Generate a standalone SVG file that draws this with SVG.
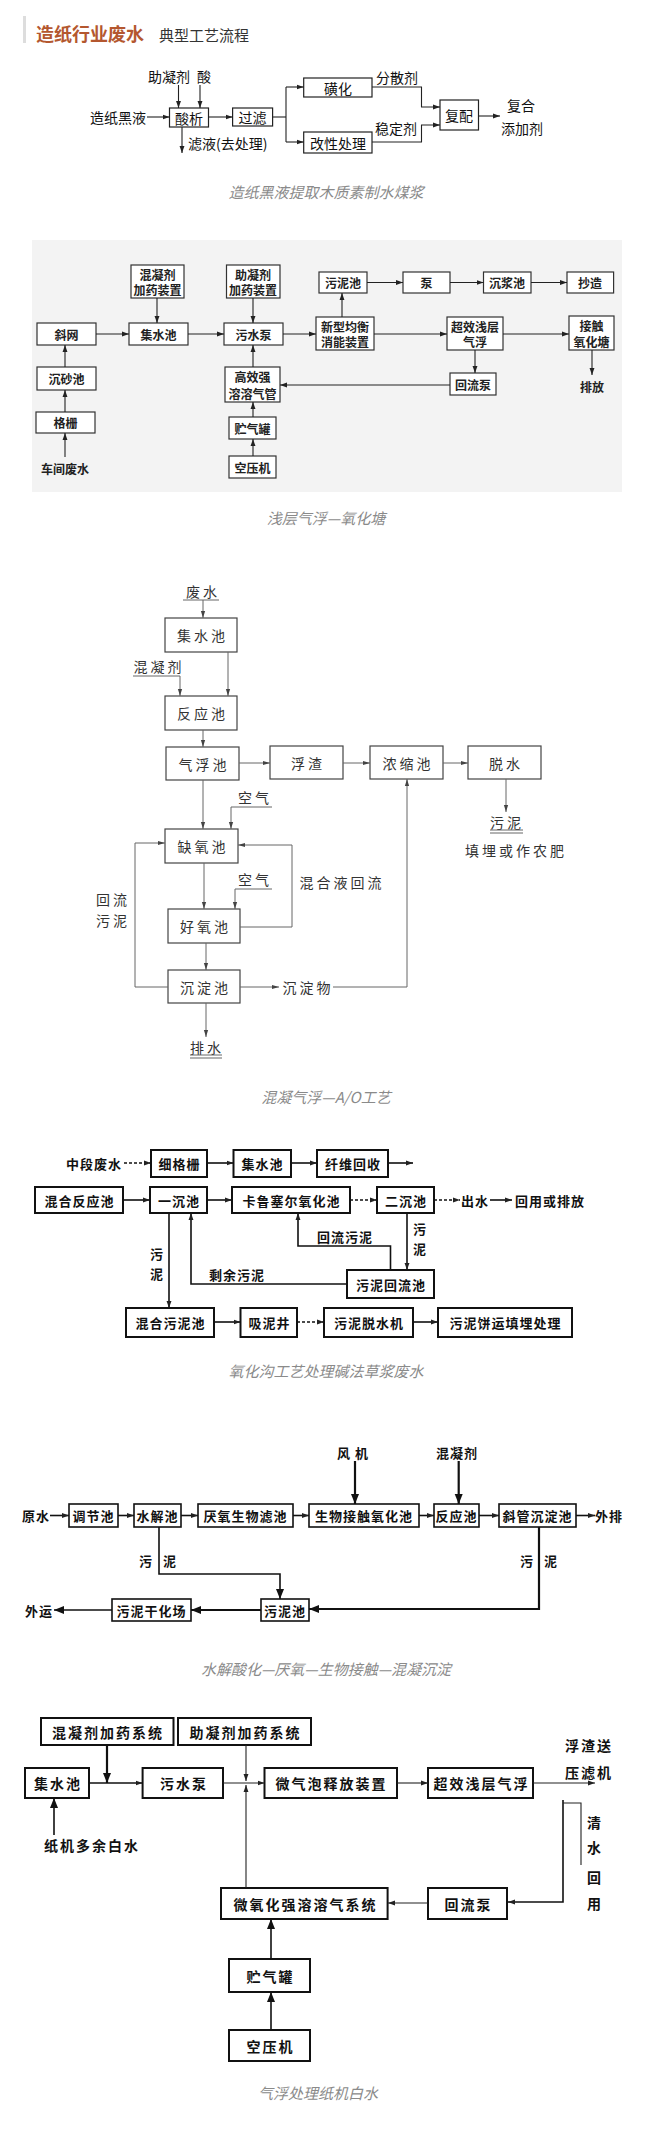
<svg xmlns="http://www.w3.org/2000/svg" width="648" height="2130" viewBox="0 0 648 2130">
<style>
text{font-family:'Noto Sans CJK SC','Noto Sans',sans-serif;dominant-baseline:central;text-anchor:middle;fill:#111}
.cap{font-size:15px;font-style:italic;fill:#8a8a8a}
.d1{font-size:14px}
.d2{font-size:12px;font-weight:bold;fill:#222}
.d3{font-size:14px;letter-spacing:3px;fill:#333}
.d4{font-size:13px;font-weight:bold;letter-spacing:1px}
.d5{font-size:13px;font-weight:bold;letter-spacing:1px}
.d6{font-size:14px;font-weight:bold;letter-spacing:2px}
.b1{fill:#fff;stroke:#222;stroke-width:1.2}
.b2{fill:#fff;stroke:#333;stroke-width:1.2}
.b3{fill:#fff;stroke:#444;stroke-width:1.2}
.b4{fill:#fff;stroke:#111;stroke-width:2}
.b5{fill:#fff;stroke:#111;stroke-width:1.6}
.b6{fill:#fff;stroke:#111;stroke-width:2}
.l{fill:none;stroke:#222;stroke-width:1.1}
.l3{fill:none;stroke:#666;stroke-width:1}
.lt{fill:none;stroke:#111;stroke-width:1.6}
.lT{fill:none;stroke:#111;stroke-width:2.2}
.dash{stroke-dasharray:3 2}
</style>
<defs>
<marker id="a" viewBox="0 0 10 10" refX="10" refY="5" markerWidth="7" markerHeight="7" markerUnits="userSpaceOnUse" orient="auto"><path d="M0,1.5 L10,5 L0,8.5 z" fill="#222"/></marker>
<marker id="a3" viewBox="0 0 10 10" refX="10" refY="5" markerWidth="7" markerHeight="7" markerUnits="userSpaceOnUse" orient="auto"><path d="M0,2 L10,5 L0,8 z" fill="#444"/></marker>
<marker id="ab" viewBox="0 0 10 10" refX="10" refY="5" markerWidth="10" markerHeight="10" markerUnits="userSpaceOnUse" orient="auto"><path d="M0,1 L10,5 L0,9 z" fill="#111"/></marker>
</defs>

<g id="header">
<rect x="23" y="16" width="3" height="27" fill="#ddd"/>
<text x="36" y="33" font-size="18" font-weight="bold" fill="#b4572f" style="text-anchor:start;fill:#b4572f">造纸行业废水</text>
<text x="159" y="34" font-size="15" style="text-anchor:start;fill:#333">典型工艺流程</text>
</g>

<!-- Diagram 1 -->
<g id="d1-nodes">
<g id="d1-suanxi"><rect class="b1" x="169.5" y="108" width="39" height="19"/><text class="d1" x="189" y="117.5">酸析</text></g>
<g id="d1-guolv"><rect class="b1" x="232.6" y="108" width="40" height="18"/><text class="d1" x="252.6" y="117">过滤</text></g>
<g id="d1-huanghua"><rect class="b1" x="303.7" y="78" width="68.3" height="19"/><text class="d1" x="338" y="87.5">磺化</text></g>
<g id="d1-gaixing"><rect class="b1" x="303.7" y="132" width="68.3" height="21"/><text class="d1" x="338" y="142.5">改性处理</text></g>
<g id="d1-fupei"><rect class="b1" x="440" y="100" width="38.5" height="30"/><text class="d1" x="459" y="115">复配</text></g>
<g id="d1-labels">
<text class="d1" x="169" y="76">助凝剂</text>
<text class="d1" x="204" y="76">酸</text>
<text class="d1" x="146" y="117" style="text-anchor:end">造纸黑液</text>
<text class="d1" x="188" y="143" style="text-anchor:start">滤液(去处理)</text>
<text class="d1" x="397" y="77">分散剂</text>
<text class="d1" x="396" y="128">稳定剂</text>
<text class="d1" x="521" y="105">复合</text>
<text class="d1" x="522" y="128">添加剂</text>
</g>
</g>
<g id="d1-edges">
<line class="l" x1="178.5" y1="85" x2="178.5" y2="108" marker-end="url(#a)"/>
<line class="l" x1="200" y1="85" x2="200" y2="108" marker-end="url(#a)"/>
<line class="l" x1="147" y1="117" x2="169.5" y2="117" marker-end="url(#a)"/>
<line class="l" x1="208.7" y1="117" x2="232.6" y2="117" marker-end="url(#a)"/>
<polyline class="l" points="272.6,117 286,117"/>
<line class="l" x1="286" y1="87" x2="286" y2="142"/>
<line class="l" x1="286" y1="87" x2="303.7" y2="87" marker-end="url(#a)"/>
<line class="l" x1="286" y1="142" x2="303.7" y2="142" marker-end="url(#a)"/>
<line class="l" x1="182" y1="127" x2="182" y2="153" marker-end="url(#a)"/>
<polyline class="l" points="372,87 421.5,87 421.5,107 440,107" marker-end="url(#a)"/>
<polyline class="l" points="372,142 421.5,142 421.5,125 440,125" marker-end="url(#a)"/>
<line class="l" x1="478.5" y1="116" x2="500" y2="116" marker-end="url(#a)"/>
</g>
<text class="cap" x="326" y="191">造纸黑液提取木质素制水煤浆</text>

<!-- Diagram 2 -->
<rect x="32" y="240" width="590" height="252" fill="#f3f3f3"/>
<g id="d2-nodes">
<g id="d2-hnj"><rect class="b2" x="131" y="265" width="53" height="33"/><text class="d2" x="157.5" y="274">混凝剂</text><text class="d2" x="157.5" y="289">加药装置</text></g>
<g id="d2-znj"><rect class="b2" x="226.5" y="265" width="53.5" height="33"/><text class="d2" x="253" y="274">助凝剂</text><text class="d2" x="253" y="289">加药装置</text></g>
<g id="d2-wnc"><rect class="b2" x="319" y="272" width="48" height="21"/><text class="d2" x="343" y="282.5">污泥池</text></g>
<g id="d2-beng"><rect class="b2" x="403" y="272" width="47" height="21"/><text class="d2" x="426.5" y="282.5">泵</text></g>
<g id="d2-cjc"><rect class="b2" x="483.5" y="272" width="47.5" height="21"/><text class="d2" x="507" y="282.5">沉浆池</text></g>
<g id="d2-cz"><rect class="b2" x="567" y="272" width="46.6" height="21"/><text class="d2" x="590" y="282.5">抄造</text></g>
<g id="d2-xw"><rect class="b2" x="37" y="323" width="59" height="22"/><text class="d2" x="66.5" y="334">斜网</text></g>
<g id="d2-jsc"><rect class="b2" x="129" y="323" width="59" height="22"/><text class="d2" x="158.5" y="334">集水池</text></g>
<g id="d2-wsb"><rect class="b2" x="224" y="323" width="59" height="22"/><text class="d2" x="253.5" y="334">污水泵</text></g>
<g id="d2-xx"><rect class="b2" x="316" y="317" width="58" height="33"/><text class="d2" x="345" y="326">新型均衡</text><text class="d2" x="345" y="341">消能装置</text></g>
<g id="d2-cx"><rect class="b2" x="447" y="317" width="56" height="33"/><text class="d2" x="475" y="326">超效浅层</text><text class="d2" x="475" y="341">气浮</text></g>
<g id="d2-jc"><rect class="b2" x="569" y="316" width="45" height="34"/><text class="d2" x="591.5" y="325">接触</text><text class="d2" x="591.5" y="341">氧化塘</text></g>
<g id="d2-csc"><rect class="b2" x="37" y="367" width="59" height="23"/><text class="d2" x="66.5" y="378.5">沉砂池</text></g>
<g id="d2-gx"><rect class="b2" x="225" y="367" width="55" height="35"/><text class="d2" x="252.5" y="376">高效强</text><text class="d2" x="252.5" y="393">溶溶气管</text></g>
<g id="d2-hlb"><rect class="b2" x="450" y="373" width="46" height="22"/><text class="d2" x="473" y="384">回流泵</text></g>
<g id="d2-gs"><rect class="b2" x="36" y="412" width="59" height="21"/><text class="d2" x="65.5" y="422.5">格栅</text></g>
<g id="d2-zqg"><rect class="b2" x="229" y="417" width="47" height="22"/><text class="d2" x="252.5" y="428">贮气罐</text></g>
<g id="d2-kyj"><rect class="b2" x="229" y="456" width="47" height="22"/><text class="d2" x="252.5" y="467">空压机</text></g>
<text class="d2" x="65" y="468">车间废水</text>
<text class="d2" x="592" y="386">排放</text>
</g>
<g id="d2-edges">
<line class="l" x1="65" y1="457" x2="65" y2="433" marker-end="url(#a)"/>
<line class="l" x1="65" y1="412" x2="65" y2="390" marker-end="url(#a)"/>
<line class="l" x1="65" y1="367" x2="65" y2="345" marker-end="url(#a)"/>
<line class="l" x1="96" y1="334" x2="129" y2="334" marker-end="url(#a)"/>
<line class="l" x1="157" y1="298" x2="157" y2="323" marker-end="url(#a)"/>
<line class="l" x1="188" y1="334" x2="224" y2="334" marker-end="url(#a)"/>
<line class="l" x1="253" y1="298" x2="253" y2="323" marker-end="url(#a)"/>
<line class="l" x1="253" y1="367" x2="253" y2="345" marker-end="url(#a)"/>
<line class="l" x1="253" y1="417" x2="253" y2="402" marker-end="url(#a)"/>
<line class="l" x1="253" y1="456" x2="253" y2="439" marker-end="url(#a)"/>
<line class="l" x1="283" y1="334" x2="316" y2="334" marker-end="url(#a)"/>
<line class="l" x1="342" y1="317" x2="342" y2="293" marker-end="url(#a)"/>
<line class="l" x1="367" y1="282.5" x2="403" y2="282.5" marker-end="url(#a)"/>
<line class="l" x1="450" y1="282.5" x2="483.5" y2="282.5" marker-end="url(#a)"/>
<line class="l" x1="531" y1="282.5" x2="567" y2="282.5" marker-end="url(#a)"/>
<line class="l" x1="374" y1="334" x2="447" y2="334" marker-end="url(#a)"/>
<line class="l" x1="503" y1="334" x2="569" y2="334" marker-end="url(#a)"/>
<line class="l" x1="475" y1="350" x2="475" y2="373" marker-end="url(#a)"/>
<line class="l" x1="450" y1="385" x2="280" y2="385" marker-end="url(#a)"/>
<line class="l" x1="592" y1="350" x2="592" y2="375" marker-end="url(#a)"/>
</g>
<text class="cap" x="326" y="517">浅层气浮—氧化塘</text>

<!-- Diagram 3 -->
<g id="d3-nodes">
<g id="d3-jsc"><rect class="b3" x="165" y="618" width="72" height="34"/><text class="d3" x="202.5" y="635">集水池</text></g>
<g id="d3-fyc"><rect class="b3" x="165" y="696" width="72" height="34"/><text class="d3" x="202.5" y="713">反应池</text></g>
<g id="d3-qfc"><rect class="b3" x="166" y="747" width="73" height="33"/><text class="d3" x="204" y="763.5">气浮池</text></g>
<g id="d3-fz"><rect class="b3" x="270" y="746" width="73" height="33"/><text class="d3" x="308" y="762.5">浮渣</text></g>
<g id="d3-nsc"><rect class="b3" x="370" y="746" width="73" height="33"/><text class="d3" x="408" y="762.5">浓缩池</text></g>
<g id="d3-ts"><rect class="b3" x="468" y="746" width="73" height="33"/><text class="d3" x="506" y="762.5">脱水</text></g>
<g id="d3-qyc"><rect class="b3" x="165" y="829" width="73" height="34"/><text class="d3" x="203" y="846">缺氧池</text></g>
<g id="d3-hyc"><rect class="b3" x="168" y="909" width="72" height="34"/><text class="d3" x="205.5" y="926">好氧池</text></g>
<g id="d3-cdc"><rect class="b3" x="168" y="970" width="72" height="33"/><text class="d3" x="205.5" y="986.5">沉淀池</text></g>
<g id="d3-labels">
<text class="d3" x="203" y="591">废水</text>
<text class="d3" x="159" y="666">混凝剂</text>
<text class="d3" x="255" y="797">空气</text>
<text class="d3" x="255" y="879">空气</text>
<text class="d3" x="342" y="882">混合液回流</text>
<text class="d3" x="308" y="987">沉淀物</text>
<text class="d3" x="113" y="899">回流</text>
<text class="d3" x="113" y="920">污泥</text>
<text class="d3" x="507" y="822">污泥</text>
<text class="d3" x="516" y="850">填埋或作农肥</text>
<text class="d3" x="207" y="1047">排水</text>
</g>
</g>
<g id="d3-edges">
<line class="l3" x1="183" y1="600" x2="219" y2="600"/>
<line class="l3" x1="203" y1="600" x2="203" y2="618" marker-end="url(#a3)"/>
<polyline class="l3" points="133,676 180,676 180,696" marker-end="url(#a3)"/>
<line class="l3" x1="228" y1="652" x2="228" y2="696" marker-end="url(#a3)"/>
<line class="l3" x1="203" y1="730" x2="203" y2="747" marker-end="url(#a3)"/>
<line class="l3" x1="239" y1="763" x2="270" y2="763" marker-end="url(#a3)"/>
<line class="l3" x1="343" y1="763" x2="370" y2="763" marker-end="url(#a3)"/>
<line class="l3" x1="443" y1="763" x2="468" y2="763" marker-end="url(#a3)"/>
<line class="l3" x1="506" y1="779" x2="506" y2="812" marker-end="url(#a3)"/>
<line class="l3" x1="490" y1="830" x2="523" y2="830" stroke-width="1.6"/>
<line class="l3" x1="490" y1="833" x2="523" y2="833" stroke-width="1.6"/>
<line class="l3" x1="203" y1="780" x2="203" y2="829" marker-end="url(#a3)"/>
<polyline class="l3" points="272,807 231,807 231,829" marker-end="url(#a3)"/>
<line class="l3" x1="204" y1="863" x2="204" y2="909" marker-end="url(#a3)"/>
<polyline class="l3" points="272,889 235,889 235,909" marker-end="url(#a3)"/>
<polyline class="l3" points="240,927 292,927 292,845 238,845" marker-end="url(#a3)"/>
<line class="l3" x1="206" y1="943" x2="206" y2="970" marker-end="url(#a3)"/>
<line class="l3" x1="240" y1="987" x2="279" y2="987" marker-end="url(#a3)"/>
<polyline class="l3" points="333,987 407,987 407,779" marker-end="url(#a3)"/>
<line class="l3" x1="206" y1="1003" x2="206" y2="1037" marker-end="url(#a3)"/>
<line class="l3" x1="190" y1="1055" x2="222" y2="1055" stroke-width="1.6"/>
<line class="l3" x1="190" y1="1058" x2="222" y2="1058" stroke-width="1.6"/>
<polyline class="l3" points="168,987 135,987 135,843 165,843" marker-end="url(#a3)"/>
</g>
<text class="cap" x="326" y="1096">混凝气浮—A/O工艺</text>

<!-- Diagram 4 -->
<g id="d4-nodes">
<g id="d4-xgs"><rect class="b4" x="151" y="1150" width="56" height="27"/><text class="d4" x="179.5" y="1163.5">细格栅</text></g>
<g id="d4-jsc"><rect class="b4" x="233.5" y="1150" width="57.5" height="27"/><text class="d4" x="262.5" y="1163.5">集水池</text></g>
<g id="d4-xwhs"><rect class="b4" x="317" y="1150" width="71" height="27"/><text class="d4" x="353" y="1163.5">纤维回收</text></g>
<g id="d4-hhfy"><rect class="b4" x="35" y="1187" width="88" height="26"/><text class="d4" x="79.5" y="1200">混合反应池</text></g>
<g id="d4-ycc"><rect class="b4" x="150" y="1187" width="57" height="26"/><text class="d4" x="179" y="1200">一沉池</text></g>
<g id="d4-klse"><rect class="b4" x="232" y="1187" width="118" height="26"/><text class="d4" x="291.5" y="1200">卡鲁塞尔氧化池</text></g>
<g id="d4-ecc"><rect class="b4" x="377" y="1187" width="57" height="26"/><text class="d4" x="406" y="1200">二沉池</text></g>
<g id="d4-wnhl"><rect class="b4" x="347" y="1270" width="87" height="28"/><text class="d4" x="391" y="1284">污泥回流池</text></g>
<g id="d4-hhwn"><rect class="b4" x="126" y="1308" width="88" height="29"/><text class="d4" x="170.5" y="1322.5">混合污泥池</text></g>
<g id="d4-xnj"><rect class="b4" x="240.5" y="1308" width="56.5" height="29"/><text class="d4" x="269.5" y="1322.5">吸泥井</text></g>
<g id="d4-wntsj"><rect class="b4" x="324" y="1308" width="89" height="29"/><text class="d4" x="369" y="1322.5">污泥脱水机</text></g>
<g id="d4-wnby"><rect class="b4" x="438" y="1308" width="134" height="29"/><text class="d4" x="505.5" y="1322.5">污泥饼运填埋处理</text></g>
<g id="d4-labels">
<text class="d4" x="94" y="1163">中段废水</text>
<text class="d4" x="475" y="1200">出水</text>
<text class="d4" x="550" y="1200">回用或排放</text>
<text class="d4" x="157" y="1253">污</text>
<text class="d4" x="157" y="1273">泥</text>
<text class="d4" x="237" y="1274">剩余污泥</text>
<text class="d4" x="345" y="1236">回流污泥</text>
<text class="d4" x="420" y="1228">污</text>
<text class="d4" x="420" y="1248">泥</text>
</g>
</g>
<g id="d4-edges">
<line class="lt dash" x1="124" y1="1163" x2="151" y2="1163" marker-end="url(#a)"/>
<line class="lt" x1="207" y1="1163" x2="233.5" y2="1163" marker-end="url(#a)"/>
<line class="lt" x1="291" y1="1163" x2="317" y2="1163" marker-end="url(#a)"/>
<line class="lt" x1="388" y1="1163" x2="413" y2="1163" marker-end="url(#a)"/>
<line class="lt" x1="123" y1="1200" x2="150" y2="1200" marker-end="url(#a)"/>
<line class="lt" x1="207" y1="1200" x2="232" y2="1200" marker-end="url(#a)"/>
<line class="lt dash" x1="350" y1="1200" x2="377" y2="1200" marker-end="url(#a)"/>
<line class="lt dash" x1="434" y1="1200" x2="460" y2="1200" marker-end="url(#a)"/>
<line class="lt" x1="490" y1="1200" x2="512" y2="1200" marker-end="url(#a)"/>
<line class="lt" x1="169" y1="1213" x2="169" y2="1308" marker-end="url(#a)"/>
<polyline class="lt" points="347,1284 191,1284 191,1213" marker-end="url(#a)"/>
<polyline class="lt" points="390.5,1270 390.5,1246 298,1246 298,1213" marker-end="url(#a)"/>
<line class="lt" x1="407" y1="1213" x2="407" y2="1270" marker-end="url(#a)"/>
<line class="lt" x1="214" y1="1322" x2="240.5" y2="1322" marker-end="url(#a)"/>
<line class="lt dash" x1="297" y1="1322" x2="324" y2="1322" marker-end="url(#a)"/>
<line class="lt" x1="413" y1="1322" x2="438" y2="1322" marker-end="url(#a)"/>
</g>
<text class="cap" x="326" y="1370">氧化沟工艺处理碱法草浆废水</text>

<!-- Diagram 5 -->
<g id="d5-nodes">
<g id="d5-tjc"><rect class="b5" x="69" y="1504" width="49" height="23"/><text class="d5" x="93.5" y="1515.5">调节池</text></g>
<g id="d5-sjc"><rect class="b5" x="134" y="1504" width="47" height="23"/><text class="d5" x="157.5" y="1515.5">水解池</text></g>
<g id="d5-ry"><rect class="b5" x="198" y="1504" width="95" height="23"/><text class="d5" x="245.5" y="1515.5">厌氧生物滤池</text></g>
<g id="d5-swjc"><rect class="b5" x="309" y="1504" width="110" height="23"/><text class="d5" x="364" y="1515.5">生物接触氧化池</text></g>
<g id="d5-fyc"><rect class="b5" x="434" y="1504" width="45" height="23"/><text class="d5" x="456.5" y="1515.5">反应池</text></g>
<g id="d5-xg"><rect class="b5" x="499" y="1504" width="77" height="23"/><text class="d5" x="537.5" y="1515.5">斜管沉淀池</text></g>
<g id="d5-wnc"><rect class="b5" x="261" y="1599" width="48" height="22"/><text class="d5" x="285" y="1610">污泥池</text></g>
<g id="d5-gh"><rect class="b5" x="112" y="1599" width="79" height="22"/><text class="d5" x="151.5" y="1610">污泥干化场</text></g>
<g id="d5-labels">
<text class="d5" x="353" y="1452">风 机</text>
<text class="d5" x="457" y="1452">混凝剂</text>
<text class="d5" x="36" y="1515">原水</text>
<text class="d5" x="609" y="1515">外排</text>
<text class="d5" x="146" y="1560">污</text>
<text class="d5" x="170" y="1560">泥</text>
<text class="d5" x="527" y="1560">污</text>
<text class="d5" x="551" y="1560">泥</text>
<text class="d5" x="39" y="1610">外运</text>
</g>
</g>
<g id="d5-edges">
<line class="lT" x1="355" y1="1461" x2="355" y2="1504" marker-end="url(#ab)"/>
<line class="lT" x1="458.7" y1="1461" x2="458.7" y2="1504" marker-end="url(#ab)"/>
<line class="lt" x1="50" y1="1515.5" x2="69" y2="1515.5" marker-end="url(#a)"/>
<line class="lt" x1="118" y1="1515.5" x2="134" y2="1515.5" marker-end="url(#a)"/>
<line class="lt" x1="181" y1="1515.5" x2="198" y2="1515.5" marker-end="url(#a)"/>
<line class="lt" x1="293" y1="1515.5" x2="309" y2="1515.5" marker-end="url(#a)"/>
<line class="lt" x1="419" y1="1515.5" x2="434" y2="1515.5" marker-end="url(#a)"/>
<line class="lt" x1="479" y1="1515.5" x2="499" y2="1515.5" marker-end="url(#a)"/>
<line class="lt" x1="576" y1="1515.5" x2="595" y2="1515.5" marker-end="url(#a)"/>
<polyline class="lt" points="159,1527 159,1574 280,1574 280,1599" marker-end="url(#ab)"/>
<polyline class="lT" points="539,1527 539,1609 309,1609" marker-end="url(#ab)"/>
<line class="lT" x1="261" y1="1610" x2="191" y2="1610" marker-end="url(#ab)"/>
<line class="lt" x1="112" y1="1610" x2="54" y2="1610" marker-end="url(#ab)"/>
</g>
<text class="cap" x="326" y="1668">水解酸化—厌氧—生物接触—混凝沉淀</text>

<!-- Diagram 6 -->
<g id="d6-nodes">
<g id="d6-hnj"><rect class="b6" x="41" y="1718" width="132.5" height="27"/><text class="d6" x="108" y="1731.5">混凝剂加药系统</text></g>
<g id="d6-znj"><rect class="b6" x="178" y="1718" width="133" height="27"/><text class="d6" x="245.5" y="1731.5">助凝剂加药系统</text></g>
<g id="d6-jsc"><rect class="b6" x="25" y="1768" width="64" height="30"/><text class="d6" x="58" y="1783">集水池</text></g>
<g id="d6-wsb"><rect class="b6" x="142.6" y="1768" width="80.4" height="30"/><text class="d6" x="184" y="1783">污水泵</text></g>
<g id="d6-wqp"><rect class="b6" x="264.5" y="1768" width="132.5" height="30"/><text class="d6" x="331.5" y="1783">微气泡释放装置</text></g>
<g id="d6-cx"><rect class="b6" x="428" y="1768" width="105" height="30"/><text class="d6" x="481.5" y="1783">超效浅层气浮</text></g>
<g id="d6-hlb"><rect class="b6" x="428" y="1888" width="79" height="31"/><text class="d6" x="468.5" y="1903.5">回流泵</text></g>
<g id="d6-wyh"><rect class="b6" x="221" y="1888" width="166.6" height="31"/><text class="d6" x="305.5" y="1903.5">微氧化强溶溶气系统</text></g>
<g id="d6-zqg"><rect class="b6" x="229" y="1959" width="81" height="33"/><text class="d6" x="270.5" y="1975.5">贮气罐</text></g>
<g id="d6-kyj"><rect class="b6" x="229" y="2030" width="81" height="31"/><text class="d6" x="270.5" y="2045.5">空压机</text></g>
<g id="d6-labels">
<text class="d6" x="589" y="1745">浮渣送</text>
<text class="d6" x="589" y="1772">压滤机</text>
<text class="d6" x="92" y="1845">纸机多余白水</text>
<text class="d6" x="595" y="1822">清</text>
<text class="d6" x="595" y="1847">水</text>
<text class="d6" x="595" y="1877">回</text>
<text class="d6" x="595" y="1903">用</text>
</g>
</g>
<g id="d6-edges">
<line class="lt" x1="89" y1="1783" x2="142.6" y2="1783" marker-end="url(#a)"/>
<line class="lT" x1="107" y1="1745" x2="107" y2="1783" marker-end="url(#ab)"/>
<line class="l" x1="223" y1="1783" x2="264.5" y2="1783" marker-end="url(#a)"/>
<line class="l" x1="246" y1="1745" x2="246" y2="1781" marker-end="url(#a)"/>
<line class="l" x1="246" y1="1888" x2="246" y2="1785" marker-end="url(#a)"/>
<line class="l" x1="397" y1="1783" x2="428" y2="1783" marker-end="url(#a)"/>
<line class="l" x1="533" y1="1783" x2="595" y2="1783" marker-end="url(#a)"/>
<polyline class="lt" points="563,1800 563,1902 508,1902" marker-end="url(#a)"/>
<polyline class="l" points="563,1803 581,1803 581,1865"/>
<line class="l" x1="428" y1="1903" x2="388" y2="1903" marker-end="url(#a)"/>
<line class="lt" x1="54" y1="1835" x2="54" y2="1798" marker-end="url(#ab)"/>
<line class="lt" x1="271" y1="1959" x2="271" y2="1919" marker-end="url(#ab)"/>
<line class="lt" x1="271" y1="2030" x2="271" y2="1992" marker-end="url(#ab)"/>
</g>
<text class="cap" x="318" y="2092">气浮处理纸机白水</text>
</svg>
